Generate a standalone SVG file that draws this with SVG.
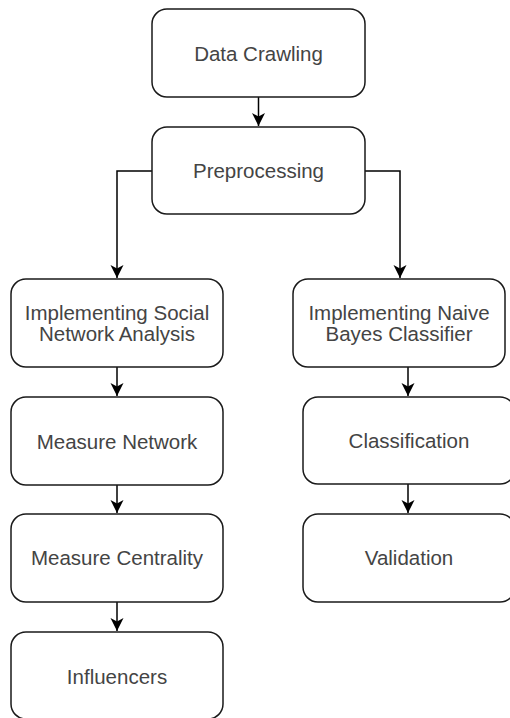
<svg xmlns="http://www.w3.org/2000/svg" width="510" height="718" viewBox="0 0 510 718">
<style>
.box{fill:#fff;stroke:#1a1a1a;stroke-width:1.5}
.lbl{font-family:"Liberation Sans",Arial,sans-serif;font-size:20.5px;fill:#444;text-anchor:middle}
.conn{fill:none;stroke:#000;stroke-width:1.5}
</style>
<defs>
<marker id="arr" markerUnits="userSpaceOnUse" markerWidth="14" markerHeight="14" viewBox="0 0 14 14" refX="13" refY="7" orient="auto">
<path d="M0,0.5 L13,7 L0,13.5 L3.5,7 z" fill="#000"/>
</marker>
</defs>
<rect width="510" height="718" fill="#fff"/>
<g id="connectors">
<path class="conn" d="M258.5,97 V126" marker-end="url(#arr)"/>
<path class="conn" d="M152,171 H117 V278" marker-end="url(#arr)"/>
<path class="conn" d="M365,171 H400 V278" marker-end="url(#arr)"/>
<path class="conn" d="M117,367 V396" marker-end="url(#arr)"/>
<path class="conn" d="M117,485 V513" marker-end="url(#arr)"/>
<path class="conn" d="M117,602 V631" marker-end="url(#arr)"/>
<path class="conn" d="M408,367 V396" marker-end="url(#arr)"/>
<path class="conn" d="M408,484 V513" marker-end="url(#arr)"/>
</g>
<g id="data-crawling">
<rect class="box" x="152" y="9" width="213" height="88" rx="15"/>
<text class="lbl" x="258.5" y="61">Data Crawling</text>
</g>
<g id="preprocessing">
<rect class="box" x="152" y="127" width="213" height="87" rx="15"/>
<text class="lbl" x="258.5" y="178">Preprocessing</text>
</g>
<g id="sna">
<rect class="box" x="11" y="279" width="212" height="88" rx="15"/>
<text class="lbl" x="117" y="320">Implementing Social</text>
<text class="lbl" x="117" y="341">Network Analysis</text>
</g>
<g id="naive-bayes">
<rect class="box" x="293" y="279" width="212" height="88" rx="15"/>
<text class="lbl" x="399" y="320">Implementing Naive</text>
<text class="lbl" x="399" y="341">Bayes Classifier</text>
</g>
<g id="measure-network">
<rect class="box" x="11" y="397" width="212" height="88" rx="15"/>
<text class="lbl" x="117" y="449">Measure Network</text>
</g>
<g id="classification">
<rect class="box" x="303" y="397" width="212" height="87" rx="15"/>
<text class="lbl" x="409" y="448">Classification</text>
</g>
<g id="measure-centrality">
<rect class="box" x="11" y="514" width="212" height="88" rx="15"/>
<text class="lbl" x="117" y="565">Measure Centrality</text>
</g>
<g id="validation">
<rect class="box" x="303" y="514" width="212" height="88" rx="15"/>
<text class="lbl" x="409" y="565">Validation</text>
</g>
<g id="influencers">
<rect class="box" x="11" y="632" width="212" height="87" rx="15"/>
<text class="lbl" x="117" y="684">Influencers</text>
</g>
</svg>
